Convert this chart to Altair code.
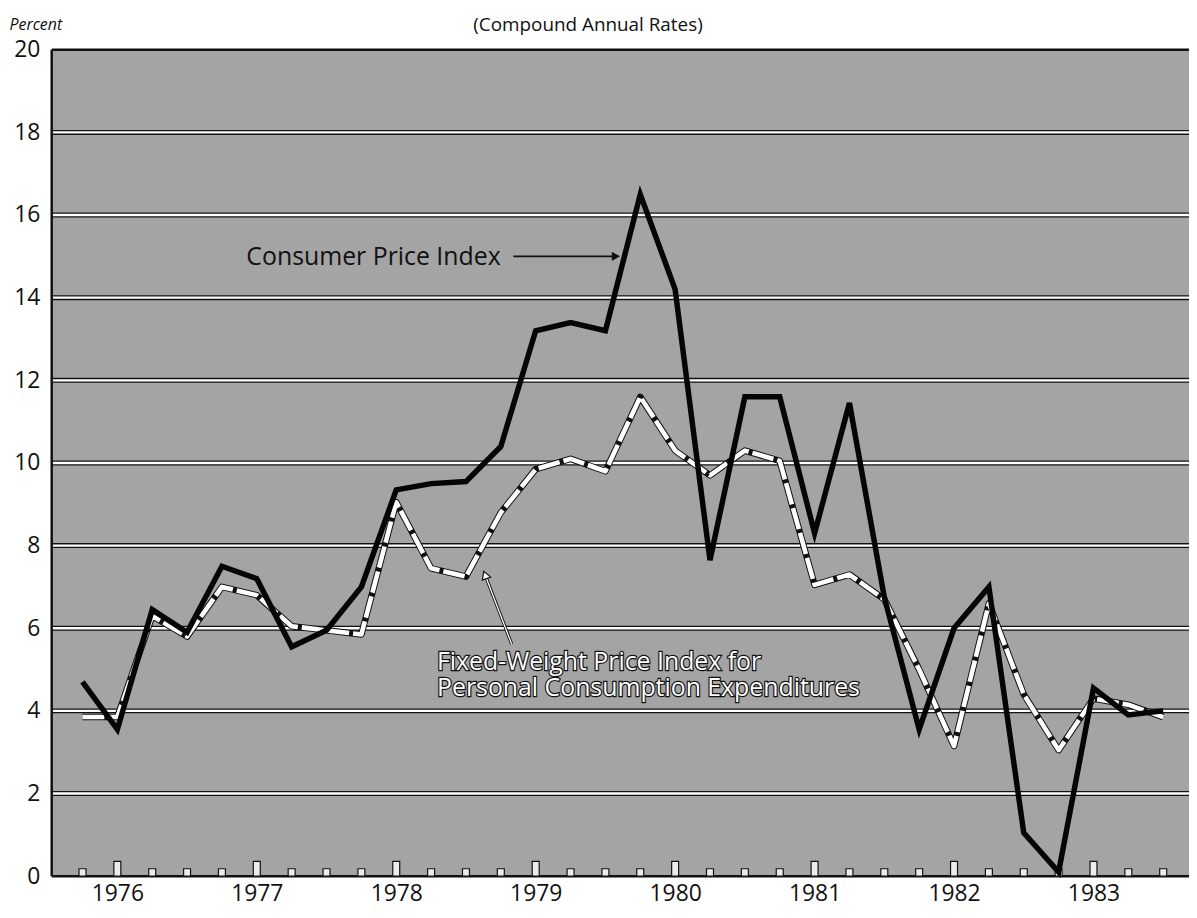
import altair as alt
import pandas as pd

# ---- data (quarterly, compound annual rates, percent) ----
quarters = list(range(32))
cpi = [4.7, 3.55, 6.45, 5.9, 7.5, 7.2, 5.55, 5.95, 7.0, 9.35, 9.5, 9.55,
       10.4, 13.2, 13.4, 13.2, 16.5, 14.2, 7.65, 11.6, 11.6, 8.3, 11.45, 6.75,
       3.55, 6.0, 7.0, 1.05, 0.1, 4.55, 3.9, 4.0]
pce = [3.85, 3.85, 6.3, 5.8, 7.0, 6.8, 6.05, 5.95, 5.85, 9.05, 7.45, 7.25,
       8.8, 9.85, 10.1, 9.8, 11.6, 10.3, 9.7, 10.3, 10.05, 7.05, 7.3, 6.7,
       5.0, 3.15, 6.6, 4.4, 3.05, 4.3, 4.15, 3.85]
year_labels = ["1976", "1977", "1978", "1979", "1980", "1981", "1982", "1983"]
year_pos = [1, 5, 9, 13, 17, 21, 25, 29]
y_ticks = [0, 2, 4, 6, 8, 10, 12, 14, 16, 18, 20]
grid_vals = [2, 4, 6, 8, 10, 12, 14, 16, 18]

X_LO, X_HI = -0.883, 31.74
FONT = "Open Sans"
DARK = "#111111"
BG = "#a4a4a4"

series = pd.DataFrame({"q": quarters, "cpi": cpi, "pce": pce})
ticks = pd.DataFrame({
    "x1": [q - 0.1 for q in quarters],
    "x2": [q + 0.1 for q in quarters],
    "y1": [0.0 for q in quarters],
    "h": [0.36 if q in year_pos else 0.18 for q in quarters],
})
grid = pd.DataFrame({"v": grid_vals})
hborders = pd.DataFrame({"v": [0, 20]})
vborder = pd.DataFrame({"q": [X_LO]})

label_expr = "{" + ",".join(f"'{p}':'{l}'" for p, l in zip(year_pos, year_labels)) + "}[datum.value]"

xscale = alt.Scale(domain=[X_LO, X_HI], nice=False, zero=False)
yscale = alt.Scale(domain=[0, 20], nice=False, zero=False)

x_axis = alt.Axis(values=year_pos, labelExpr=label_expr, domain=False, ticks=False,
                  grid=False, labelPadding=25, labelBaseline="alphabetic",
                  labelFontSize=23, labelFont=FONT, labelColor=DARK, title=None)
y_axis = alt.Axis(values=y_ticks, domain=False, ticks=False, grid=False,
                  labelPadding=12, labelFontSize=23, labelFont=FONT, labelColor=DARK,
                  title="Percent", titleAngle=0, titleAlign="left", titleBaseline="middle",
                  titleX=-43, titleY=-25, titleFont=FONT, titleFontSize=16,
                  titleFontStyle="italic", titleFontWeight="normal", titleColor=DARK)

X = lambda f, **kw: alt.X(f, scale=xscale, **kw)
Y = lambda f, **kw: alt.Y(f, scale=yscale, **kw)

grid_dark = alt.Chart(grid).mark_rule(color=DARK, strokeWidth=5).encode(
    y=Y("v:Q", axis=y_axis))
grid_white = alt.Chart(grid).mark_rule(color="white", strokeWidth=2.4).encode(y=Y("v:Q"))
h_border = alt.Chart(hborders).mark_rule(color=DARK, strokeWidth=2.5).encode(y=Y("v:Q"))
left_border = alt.Chart(vborder).mark_rule(color=DARK, strokeWidth=2.5).encode(x=X("q:Q"))

notches = alt.Chart(ticks).mark_rect(fill="#ececec", stroke=DARK, strokeWidth=1.2).encode(
    x=X("x1:Q", axis=x_axis), x2="x2:Q", y=Y("y1:Q"), y2="h:Q")

base = alt.Chart(series)
pce_outline = base.mark_line(color=DARK, strokeWidth=6.6, strokeJoin="round").encode(
    x=X("q:Q"), y=Y("pce:Q"))
pce_white = base.mark_line(color="white", strokeWidth=4.6, strokeDash=[22, 4],
                           strokeCap="butt", strokeJoin="round").encode(
    x=X("q:Q"), y=Y("pce:Q"))
cpi_line = base.mark_line(color="#050505", strokeWidth=5.5, strokeJoin="miter").encode(
    x=X("q:Q"), y=Y("cpi:Q"))

# ---- annotations (positions in data units) ----
cpi_note = pd.DataFrame({"q": [4.70], "v": [14.8], "t": ["Consumer Price Index"]})
cpi_text = alt.Chart(cpi_note).mark_text(align="left", baseline="alphabetic", font=FONT,
                                         fontSize=25, color=DARK).encode(
    x=X("q:Q"), y=Y("v:Q"), text="t:N")
cpi_arrow_df = pd.DataFrame({"q": [12.36, 15.25], "v": [15.0, 15.0]})
cpi_arrow = alt.Chart(cpi_arrow_df).mark_line(color=DARK, strokeWidth=1.6).encode(
    x=X("q:Q"), y=Y("v:Q"))
cpi_head = alt.Chart(pd.DataFrame({"q": [15.3], "v": [15.0]})).mark_point(
    shape="triangle-right", filled=True, color=DARK, size=90, opacity=1).encode(
    x=X("q:Q"), y=Y("v:Q"))

pce_note = pd.DataFrame({"q": [10.17, 10.17], "v": [4.98, 4.36],
                         "t": ["Fixed-Weight Price Index for",
                               "Personal Consumption Expenditures"]})
# outlined lettering: dark stroked copy underneath, white copy on top
pce_text_under = alt.Chart(pce_note).mark_text(align="left", baseline="alphabetic", font=FONT,
                                               fontSize=25, color=DARK, stroke=DARK,
                                               strokeWidth=2.4).encode(
    x=X("q:Q"), y=Y("v:Q"), text="t:N")
pce_text_over = alt.Chart(pce_note).mark_text(align="left", baseline="alphabetic", font=FONT,
                                              fontSize=25, color="white").encode(
    x=X("q:Q"), y=Y("v:Q"), text="t:N")
pce_arrow_df = pd.DataFrame({"q": [12.31, 11.55], "v": [5.62, 7.29]})
pce_arrow_dark = alt.Chart(pce_arrow_df).mark_line(color=DARK, strokeWidth=3.2).encode(
    x=X("q:Q"), y=Y("v:Q"))
pce_arrow_white = alt.Chart(pce_arrow_df).mark_line(color="white", strokeWidth=1.3).encode(
    x=X("q:Q"), y=Y("v:Q"))
pce_head = alt.Chart(pd.DataFrame({"q": [11.55], "v": [7.29]})).mark_point(
    shape="triangle-up", filled=True, fill="white", stroke=DARK, strokeWidth=1.2,
    size=80, angle=339, opacity=1).encode(
    x=X("q:Q"), y=Y("v:Q"))

title_df = pd.DataFrame({"q": [14.5], "v": [20.0], "t": ["(Compound Annual Rates)"]})
title = alt.Chart(title_df).mark_text(
    font=FONT, fontSize=19, color=DARK, align="center", baseline="middle", dy=-25).encode(
    x=X("q:Q"), y=Y("v:Q"), text="t:N")

chart = alt.layer(
    grid_dark, grid_white, h_border, left_border, notches,
    pce_outline, pce_white, cpi_line,
    cpi_text, cpi_arrow, cpi_head,
    pce_arrow_dark, pce_arrow_white, pce_head,
    pce_text_under, pce_text_over, title,
).properties(
    width=1145, height=832,
    autosize=alt.AutoSizeParams(type="none"),
    padding={"left": 44, "top": 39, "right": 0, "bottom": 28},
    background="white",
).configure_view(fill=BG, stroke=None)

chart.save("out.html", embed_options={"renderer": "svg", "actions": False})
